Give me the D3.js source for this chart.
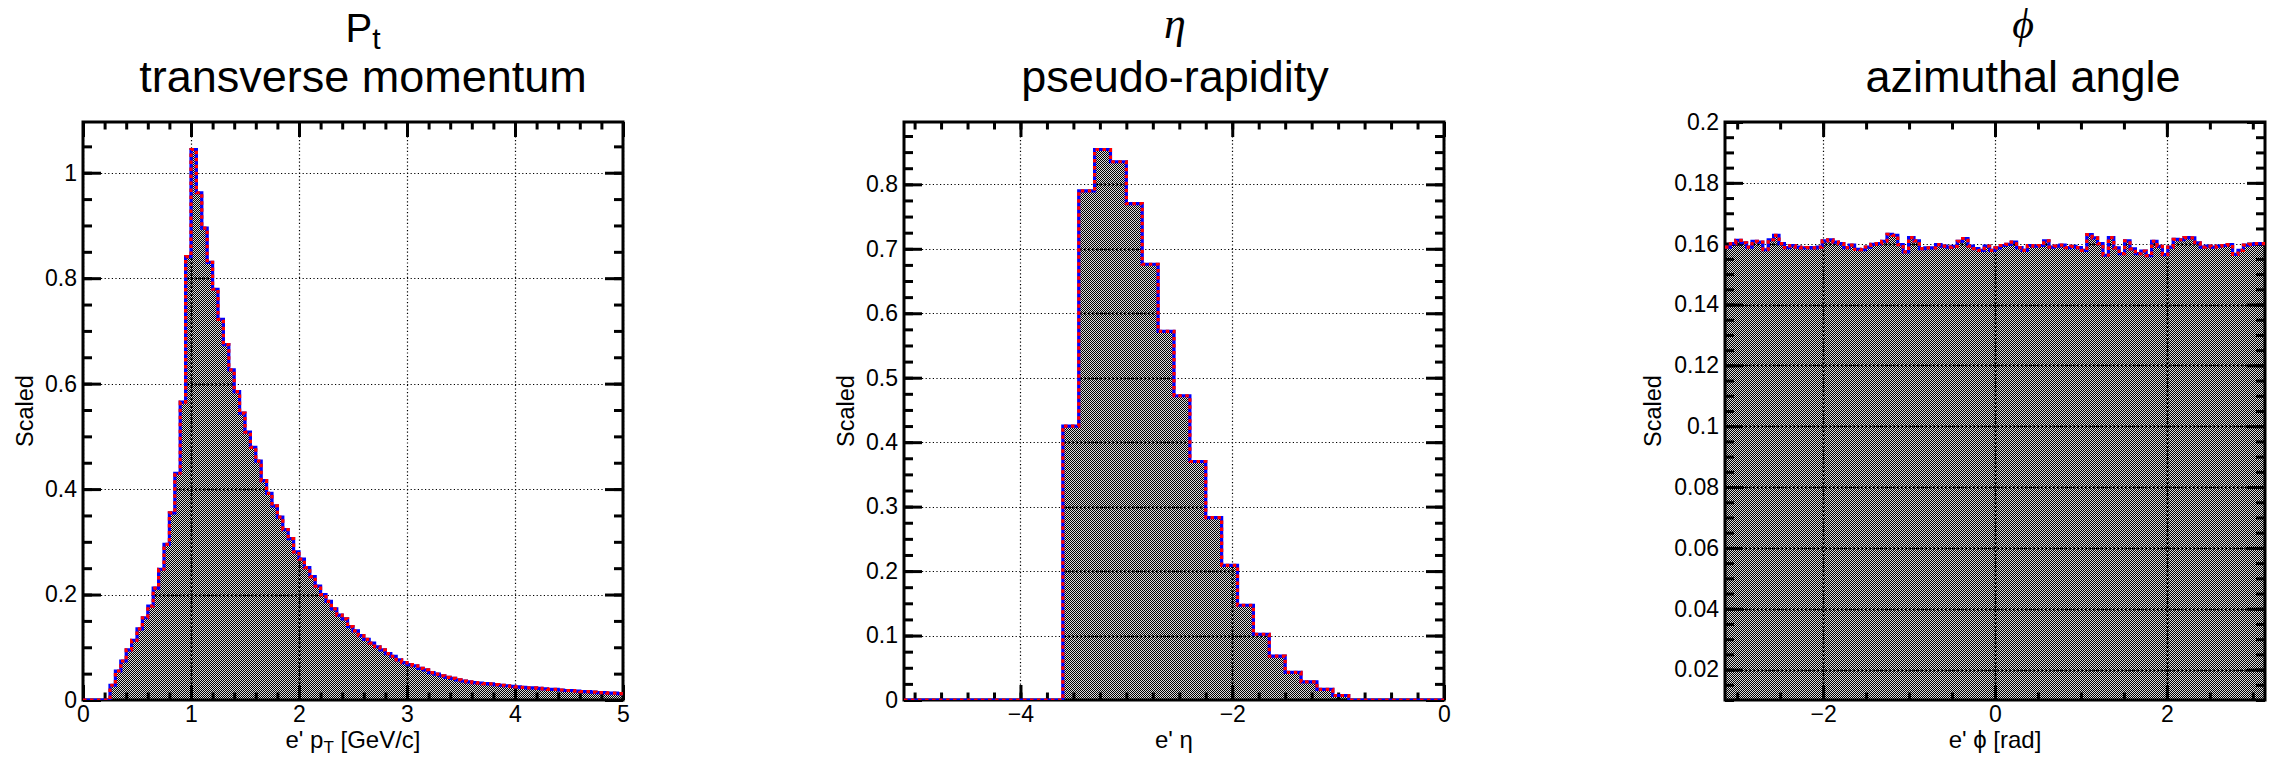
<!DOCTYPE html>
<html>
<head>
<meta charset="utf-8">
<script src="https://cdn.jsdelivr.net/npm/d3@7"></script>
<style>
  html, body { margin: 0; padding: 0; background: #fff; }
  svg { display: block; }
  text { font-family: "Liberation Sans", Arial, Helvetica, sans-serif; fill: #000; }
</style>
</head>
<body>
<svg id="canvas" width="2277" height="761"></svg>
<script>
// ---------- transverse momentum: 100 bins on [0, 5] GeV/c ----------
const ptRange = [0, 5];
const ptValues = [
  0, 0, 0, 0, 0, 0.028, 0.055, 0.074, 0.095, 0.113,
  0.135, 0.156, 0.178, 0.212, 0.248, 0.295, 0.355, 0.430, 0.565, 0.841,
  1.044, 0.962, 0.895, 0.830, 0.779, 0.722, 0.674, 0.626, 0.585, 0.544,
  0.508, 0.479, 0.453, 0.416, 0.392, 0.368, 0.347, 0.323, 0.306, 0.281,
  0.267, 0.251, 0.234, 0.216, 0.200, 0.187, 0.173, 0.161, 0.154, 0.139,
  0.131, 0.122, 0.115, 0.108, 0.101, 0.095, 0.088, 0.083, 0.076, 0.071,
  0.067, 0.065, 0.060, 0.057, 0.052, 0.049, 0.046, 0.043, 0.041, 0.038,
  0.036, 0.0345, 0.033, 0.032, 0.031, 0.0305, 0.029, 0.028, 0.027, 0.026,
  0.025, 0.024, 0.023, 0.023, 0.022, 0.021, 0.020, 0.020, 0.019, 0.018,
  0.018, 0.017, 0.016, 0.016, 0.015, 0.014, 0.014, 0.013, 0.013, 0.012
];
const ptXTicks = [0, 1, 2, 3, 4, 5];
const ptXLabels = ["0", "1", "2", "3", "4", "5"];
const ptYTicks = [0, 0.2, 0.4, 0.6, 0.8, 1];
const ptYLabels = ["0", "0.2", "0.4", "0.6", "0.8", "1"];

// ---------- pseudo-rapidity: 34 bins on [-5.1, 0] ----------
const etaRange = [-5.1, 0];
const etaValues = [
  0, 0, 0, 0, 0, 0, 0, 0, 0, 0,
  0.425, 0.790, 0.854, 0.835, 0.770, 0.676, 0.572, 0.472, 0.370, 0.283,
  0.209, 0.147, 0.102, 0.068, 0.043, 0.028, 0.0165, 0.007, 0, 0,
  0, 0, 0, 0
];
const etaXTicks = [-4, -2, 0];
const etaXLabels = ["\u22124", "\u22122", "0"];
const etaYTicks = [0, 0.1, 0.2, 0.3, 0.4, 0.5, 0.6, 0.7, 0.8];
const etaYLabels = ["0", "0.1", "0.2", "0.3", "0.4", "0.5", "0.6", "0.7", "0.8"];

// ---------- azimuthal angle: 100 bins on [-pi, pi] ----------
const phiRange = [-Math.PI, Math.PI];
const phiYRange = [0.01, 0.2];
const phiValues = [
  0.1589, 0.1600, 0.1611, 0.1603, 0.1589, 0.1608, 0.1605, 0.1580, 0.1613, 0.1627,
  0.1600, 0.1587, 0.1594, 0.1589, 0.1586, 0.1587, 0.1586, 0.1589, 0.1609, 0.1613,
  0.1605, 0.1600, 0.1587, 0.1595, 0.1581, 0.1580, 0.1589, 0.1598, 0.1600, 0.1608,
  0.1631, 0.1627, 0.1597, 0.1573, 0.1620, 0.1609, 0.1584, 0.1586, 0.1586, 0.1597,
  0.1592, 0.1589, 0.1591, 0.1608, 0.1617, 0.1592, 0.1584, 0.1578, 0.1592, 0.1578,
  0.1586, 0.1594, 0.1598, 0.1605, 0.1587, 0.1578, 0.1594, 0.1592, 0.1594, 0.1609,
  0.1589, 0.1592, 0.1595, 0.1587, 0.1591, 0.1587, 0.1578, 0.1630, 0.1619, 0.1600,
  0.1562, 0.1620, 0.1586, 0.1567, 0.1609, 0.1583, 0.1567, 0.1576, 0.1561, 0.1608,
  0.1591, 0.1564, 0.1589, 0.1614, 0.1613, 0.1620, 0.1619, 0.1603, 0.1589, 0.1592,
  0.1589, 0.1592, 0.1594, 0.1597, 0.1565, 0.1578, 0.1595, 0.1598, 0.1600, 0.1600
];
const phiXTicks = [-2, 0, 2];
const phiXLabels = ["\u22122", "0", "2"];
const phiYTicks = [0.02, 0.04, 0.06, 0.08, 0.1, 0.12, 0.14, 0.16, 0.18, 0.2];
const phiYLabels = ["0.02", "0.04", "0.06", "0.08", "0.1", "0.12", "0.14", "0.16", "0.18", "0.2"];

// ---------- drawing ----------
const svg = d3.select("#canvas");
const defs = svg.append("defs");

// fine 1px checker fill: black cells plus lightly shaded cells
const pat = defs.append("pattern")
  .attr("id", "checker").attr("patternUnits", "userSpaceOnUse")
  .attr("width", 2).attr("height", 2);
pat.append("rect").attr("x", 0).attr("y", 0).attr("width", 1).attr("height", 1).attr("fill", "#000");
pat.append("rect").attr("x", 1).attr("y", 1).attr("width", 1).attr("height", 1).attr("fill", "#000");
pat.append("rect").attr("x", 1).attr("y", 0).attr("width", 1).attr("height", 1).attr("fill", "rgba(0,0,0,0.14)");
pat.append("rect").attr("x", 0).attr("y", 1).attr("width", 1).attr("height", 1).attr("fill", "rgba(0,0,0,0.14)");

const FRAME_TOP = 122, FRAME_BOTTOM = 700, FRAME_W = 540;
const H = FRAME_BOTTOM - FRAME_TOP;

function rangeStep(a, b, s) {
  const out = [];
  for (let k = Math.ceil(a / s - 1e-9); k * s <= b + 1e-9; k++) out.push(+(k * s).toFixed(6));
  return out;
}

function drawGrid(parent, x, y, p, width, dash) {
  const grid = parent.append("g").attr("stroke", "#000").attr("stroke-width", width)
    .attr("stroke-dasharray", dash);
  grid.selectAll("line.gx").data(p.xTicks).join("line")
    .attr("x1", d => Math.round(x(d)) + 0.5).attr("x2", d => Math.round(x(d)) + 0.5)
    .attr("y1", 0).attr("y2", H);
  grid.selectAll("line.gy").data(p.yTicks).join("line")
    .attr("x1", 0).attr("x2", FRAME_W)
    .attr("y1", d => Math.round(y(d)) + 0.5).attr("y2", d => Math.round(y(d)) + 0.5);
  return grid;
}

function drawPanel(p, idx) {
  const g = svg.append("g").attr("transform", `translate(${p.left},${FRAME_TOP})`);
  const x = d3.scaleLinear().domain(p.xRange).range([0, FRAME_W]);
  const y = d3.scaleLinear().domain(p.yRange).range([H, 0]);

  const clipId = "clip" + idx;
  defs.append("clipPath").attr("id", clipId)
    .append("rect").attr("x", 0).attr("y", 0).attr("width", FRAME_W).attr("height", H);

  // histogram points (bin low edges, plus closing edge)
  const n = p.values.length;
  const bw = (p.xRange[1] - p.xRange[0]) / n;
  const pts = p.values.map((v, i) => [p.xRange[0] + i * bw, v]);
  pts.push([p.xRange[1], p.values[n - 1]]);

  const area = d3.area().curve(d3.curveStepAfter)
    .x(d => x(d[0])).y0(H).y1(d => y(d[1]));
  const areaD = area(pts);

  // dotted grid over the open background
  drawGrid(g, x, y, p, 1.2, "1.2,2.4");

  const hg = g.append("g").attr("clip-path", `url(#${clipId})`);
  hg.append("path").attr("d", areaD).attr("fill", "url(#checker)");

  // grid continues through the filled region, slightly heavier
  const fillClip = "fillclip" + idx;
  defs.append("clipPath").attr("id", fillClip).append("path")
    .attr("d", areaD).attr("transform", `translate(0,0)`);
  const ig = g.append("g").attr("clip-path", `url(#${fillClip})`);
  drawGrid(ig, x, y, p, 2, "2,2");

  // ticks on all four sides, pointing inward
  const xMin = rangeStep(p.xRange[0], p.xRange[1], p.xMinorStep);
  const yMin = rangeStep(p.yRange[0], p.yRange[1], p.yMinorStep);
  const XMAJ = 15, XMIN = 7.5, YMAJ = 18, YMIN = 9;

  const styleAxis = sel => {
    sel.select(".domain").remove();
    sel.selectAll("line").attr("stroke", "#000").attr("stroke-width", 3);
    sel.selectAll("text").attr("font-size", 23)
      .attr("font-family", "'Liberation Sans', Arial, sans-serif").attr("fill", "#000");
  };

  g.append("g").attr("transform", `translate(0,${H})`)
    .call(d3.axisBottom(x).tickValues(p.xTicks).tickFormat((d, i) => p.xLabels[i])
      .tickSizeInner(-XMAJ).tickSizeOuter(0).tickPadding(6)).call(styleAxis);
  g.append("g").attr("transform", `translate(0,${H})`)
    .call(d3.axisBottom(x).tickValues(xMin).tickFormat("").tickSizeInner(-XMIN).tickSizeOuter(0)).call(styleAxis);
  g.append("g")
    .call(d3.axisTop(x).tickValues(p.xTicks).tickFormat("").tickSizeInner(-XMAJ).tickSizeOuter(0)).call(styleAxis);
  g.append("g")
    .call(d3.axisTop(x).tickValues(xMin).tickFormat("").tickSizeInner(-XMIN).tickSizeOuter(0)).call(styleAxis);

  g.append("g")
    .call(d3.axisLeft(y).tickValues(p.yTicks).tickFormat((d, i) => p.yLabels[i])
      .tickSizeInner(-YMAJ).tickSizeOuter(0).tickPadding(6)).call(styleAxis);
  g.append("g")
    .call(d3.axisLeft(y).tickValues(yMin).tickFormat("").tickSizeInner(-YMIN).tickSizeOuter(0)).call(styleAxis);
  g.append("g").attr("transform", `translate(${FRAME_W},0)`)
    .call(d3.axisRight(y).tickValues(p.yTicks).tickFormat("").tickSizeInner(-YMAJ).tickSizeOuter(0)).call(styleAxis);
  g.append("g").attr("transform", `translate(${FRAME_W},0)`)
    .call(d3.axisRight(y).tickValues(yMin).tickFormat("").tickSizeInner(-YMIN).tickSizeOuter(0)).call(styleAxis);

  // frame
  g.append("rect").attr("x", 0).attr("y", 0).attr("width", FRAME_W).attr("height", H)
    .attr("fill", "none").attr("stroke", "#000").attr("stroke-width", 3);

  // outline: blue solid with red dashes on top
  const line = d3.line().curve(d3.curveStepAfter).x(d => x(d[0])).y(d => y(d[1]));
  const og = g.append("g").attr("clip-path", `url(#${clipId})`);
  og.append("path").attr("d", line(pts)).attr("fill", "none")
    .attr("stroke", "#0000ff").attr("stroke-width", 3.2);
  og.append("path").attr("d", line(pts)).attr("fill", "none")
    .attr("stroke", "#ff0000").attr("stroke-width", 3.2).attr("stroke-dasharray", "3.5,3.5");

  // axis titles
  const xt = svg.append("text").attr("x", p.left + FRAME_W / 2).attr("y", 748)
    .attr("text-anchor", "middle").attr("font-size", 24);
  p.xTitle(xt);
  svg.append("text")
    .attr("transform", `translate(${p.yTitleX},${(FRAME_TOP + FRAME_BOTTOM) / 2}) rotate(-90)`)
    .attr("text-anchor", "middle").attr("font-size", 23.5).text("Scaled");

  // two-line title
  const t1 = svg.append("text").attr("x", p.titleX).attr("y", 42).attr("text-anchor", "middle");
  p.title1(t1);
  svg.append("text").attr("x", p.titleX).attr("y", 92).attr("text-anchor", "middle")
    .attr("font-size", 45).text(p.title2);
}

const panels = [
  {
    left: 83, xRange: ptRange, yRange: [0, d3.max(ptValues) * 1.05], values: ptValues,
    xTicks: ptXTicks, xLabels: ptXLabels, yTicks: ptYTicks, yLabels: ptYLabels,
    xMinorStep: 0.2, yMinorStep: 0.05, yTitleX: 33, titleX: 363,
    title1: t => {
      t.append("tspan").attr("font-size", 40).text("P");
      t.append("tspan").attr("font-size", 30).attr("dy", 7).text("t");
    },
    title2: "transverse momentum",
    xTitle: t => {
      t.append("tspan").text("e' p");
      t.append("tspan").attr("font-size", 17).attr("dy", 5).text("T");
      t.append("tspan").attr("dy", -5).text(" [GeV/c]");
    }
  },
  {
    left: 904, xRange: etaRange, yRange: [0, d3.max(etaValues) * 1.05], values: etaValues,
    xTicks: etaXTicks, xLabels: etaXLabels, yTicks: etaYTicks, yLabels: etaYLabels,
    xMinorStep: 0.25, yMinorStep: 0.025, yTitleX: 854, titleX: 1175,
    title1: t => {
      t.append("tspan").attr("font-size", 44).attr("font-style", "italic")
        .attr("font-family", "'Liberation Serif', 'Times New Roman', serif").attr("dy", -4).text("\u03b7");
    },
    title2: "pseudo-rapidity",
    xTitle: t => t.text("e' \u03b7")
  },
  {
    left: 1725, xRange: phiRange, yRange: phiYRange, values: phiValues,
    xTicks: phiXTicks, xLabels: phiXLabels, yTicks: phiYTicks, yLabels: phiYLabels,
    xMinorStep: 0.5, yMinorStep: 0.005, yTitleX: 1661, titleX: 2023,
    title1: t => {
      t.append("tspan").attr("font-size", 42).attr("font-style", "italic")
        .attr("font-family", "'Liberation Serif', 'Times New Roman', serif").attr("dy", -4).text("\u03d5");
    },
    title2: "azimuthal angle",
    xTitle: t => t.text("e' \u03d5 [rad]")
  }
];

panels.forEach(drawPanel);
</script>
</body>
</html>
